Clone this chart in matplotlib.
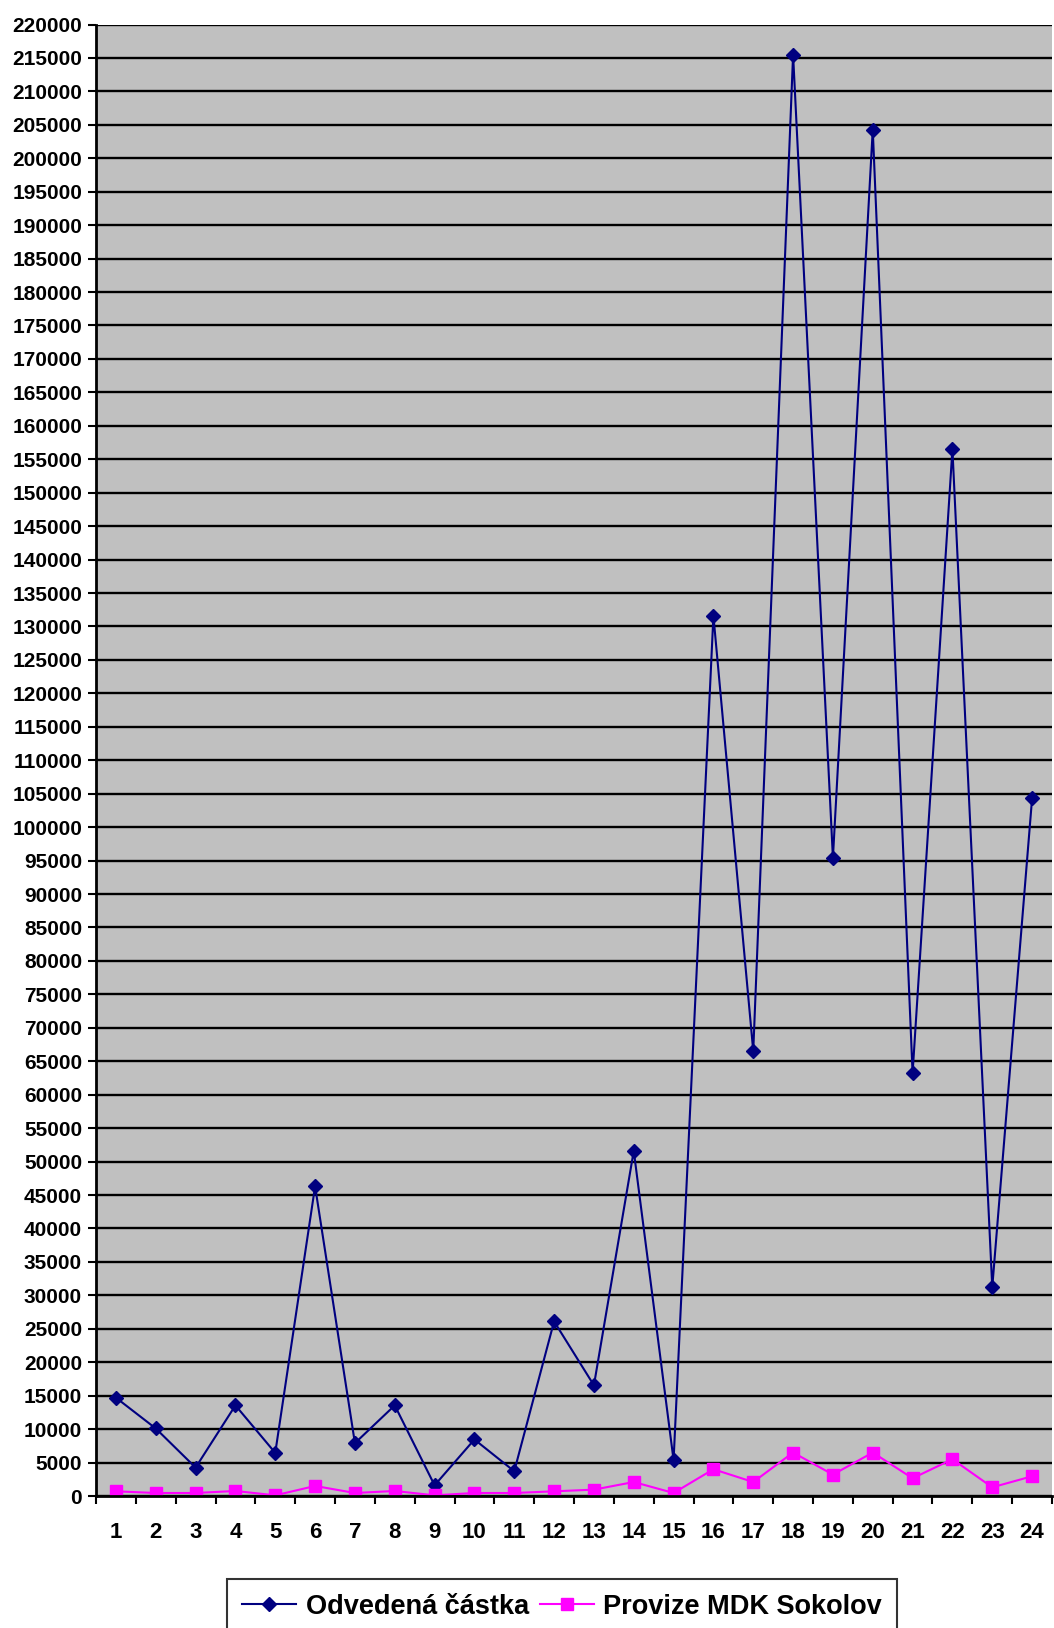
import numpy as np
import matplotlib
matplotlib.use("Agg")
import matplotlib.pyplot as plt
from matplotlib.ticker import MultipleLocator, FixedLocator

# values
months = list(range(1, 25))
odvedena = [14700, 10100, 4250, 13550, 6450, 46300, 7900, 13550, 1600, 8450,
            3700, 26100, 16550, 51600, 5350, 131600, 66500, 215500, 95400, 204300,
            63200, 156500, 31200, 104300]
provize = [700, 450, 450, 750, 100, 1500, 450, 750, 100, 450,
           450, 700, 950, 2090, 450, 4000, 2090, 6500, 3200, 6500,
           2650, 5500, 1300, 2950]

plt.rcParams['font.family'] = ['Liberation Sans', 'DejaVu Sans']

fig = plt.figure(figsize=(10.54, 16.28), dpi=100)
ax = fig.add_axes([96 / 1054, 1 - 1496 / 1628, (1052 - 96) / 1054, (1496 - 24.5) / 1628])
ax.set_facecolor("#C0C0C0")

ax.plot(months, odvedena, color="#000080", marker="D", markersize=7, linewidth=1.5,
        label="Odvedená částka")
ax.plot(months, provize, color="#FF00FF", marker="s", markersize=8, linewidth=1.5,
        label="Provize MDK Sokolov")

ax.set_xlim(0.5, 24.5)
ax.set_ylim(0, 220000)
ax.yaxis.set_major_locator(MultipleLocator(5000))
ax.grid(axis="y", color="black", linewidth=1.7)
ax.set_axisbelow(True)

ax.set_xticks(months)
ax.set_xticklabels([str(m) for m in months])
ax.xaxis.set_minor_locator(FixedLocator(np.arange(0.5, 25, 1)))
ax.tick_params(axis="x", which="major", length=0, pad=19, labelsize=16)
ax.tick_params(axis="x", which="minor", length=6, width=1.5, direction="out")
ax.tick_params(axis="y", length=6, width=1.5, pad=4, labelsize=15)
for lab in ax.get_xticklabels() + ax.get_yticklabels():
    lab.set_fontweight("bold")

for s in ["top", "right"]:
    ax.spines[s].set_visible(False)
ax.spines["left"].set_linewidth(2)
ax.spines["bottom"].set_linewidth(2)

leg = fig.legend(loc="upper left", bbox_to_anchor=(227 / 1054, 1 - 1579 / 1628),
                 ncol=2, fontsize=19.5, frameon=True, fancybox=False, edgecolor="black",
                 handlelength=2.0, columnspacing=0.4, handletextpad=0.35,
                 borderpad=0.55, borderaxespad=0)
leg.get_frame().set_linewidth(1.5)
for t in leg.get_texts():
    t.set_fontweight("bold")

fig.savefig("out.png", dpi=100)
